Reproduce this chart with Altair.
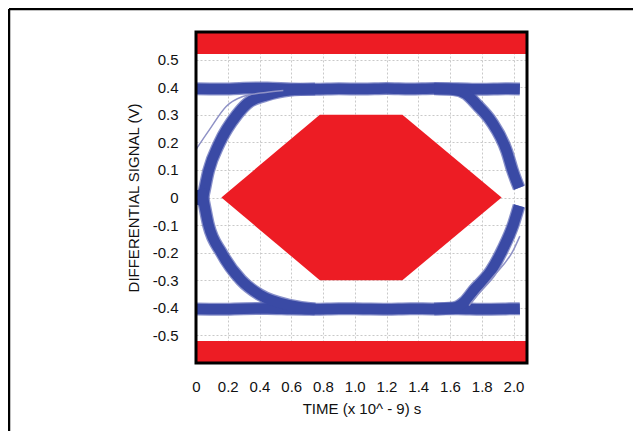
import altair as alt
import pandas as pd

# ---- data ----
x_domain = [0.0, 2.085]
y_domain = [-0.6, 0.6]

# red limit bands (V)
band_lo = [0.52, -0.6]
band_hi = [0.6, -0.52]

# red eye mask hexagon: upper and lower boundary
mask_t = [0.16, 0.78, 1.30, 1.925]
mask_up = [0.0, 0.30, 0.30, 0.0]
mask_dn = [0.0, -0.30, -0.30, 0.0]

# eye traces (time in ns, signal in V)
top_t = [0.0, 0.15, 0.3, 0.45, 0.6, 0.75, 0.9, 1.05, 1.2, 1.35, 1.5, 1.65, 1.8, 1.95, 2.04]
top_v = [0.394, 0.393, 0.396, 0.397, 0.393, 0.392, 0.394, 0.393, 0.395, 0.393, 0.395, 0.394, 0.392, 0.394, 0.393]

bot_t = [0.0, 0.15, 0.3, 0.45, 0.6, 0.75, 0.9, 1.05, 1.2, 1.35, 1.5, 1.65, 1.8, 1.95, 2.04]
bot_v = [-0.404, -0.405, -0.403, -0.402, -0.404, -0.405, -0.403, -0.404, -0.405, -0.403, -0.404, -0.403, -0.405, -0.404, -0.403]

ul_t = [0.03, 0.043, 0.079, 0.148, 0.258, 0.325, 0.44, 0.59, 0.75]
ul_v = [-0.03, 0.0, 0.096, 0.198, 0.300, 0.342, 0.370, 0.389, 0.393]

ll_t = [0.03, 0.043, 0.079, 0.16, 0.285, 0.40, 0.60, 0.75]
ll_v = [0.03, 0.0, -0.10, -0.20, -0.30, -0.352, -0.392, -0.404]

ur_t = [1.50, 1.62, 1.70, 1.77, 1.86, 1.957, 1.995, 2.035]
ur_v = [0.394, 0.391, 0.376, 0.336, 0.276, 0.168, 0.096, 0.035]

lr_t = [1.50, 1.62, 1.69, 1.75, 1.86, 1.93, 2.0, 2.035]
lr_v = [-0.404, -0.400, -0.378, -0.336, -0.264, -0.190, -0.096, -0.030]

thin_ul_t = [0.0, 0.085, 0.19, 0.295, 0.44, 0.55]
thin_ul_v = [0.174, 0.246, 0.330, 0.366, 0.381, 0.388]

thin_lr_t = [1.72, 1.75, 1.87, 2.0, 2.04]
thin_lr_v = [-0.392, -0.370, -0.288, -0.190, -0.14]

x_ticks = [0.0, 0.2, 0.4, 0.6, 0.8, 1.0, 1.2, 1.4, 1.6, 1.8, 2.0]
y_ticks = [-0.5, -0.4, -0.3, -0.2, -0.1, 0.0, 0.1, 0.2, 0.3, 0.4, 0.5]

x_title = "TIME (x 10^ - 9) s"
y_title = "DIFFERENTIAL SIGNAL (V)"

# ---- build tables ----
def series(name, ts, vs):
    return pd.DataFrame({"series": name, "i": range(len(ts)), "t": ts, "v": vs})

thick = pd.concat([
    series("top", top_t, top_v),
    series("bot", bot_t, bot_v),
    series("ul", ul_t, ul_v),
    series("ll", ll_t, ll_v),
    series("ur", ur_t, ur_v),
    series("lr", lr_t, lr_v),
])
thin = pd.concat([
    series("thin_ul", thin_ul_t, thin_ul_v),
    series("thin_lr", thin_lr_t, thin_lr_v),
])
bands = pd.DataFrame({"t": x_domain[0], "t1": x_domain[1], "v": band_lo, "hi": band_hi})
mask = pd.DataFrame({"t": mask_t, "v": mask_up, "dn": mask_dn})
frame = pd.DataFrame({"t": [x_domain[0]], "t1": [x_domain[1]], "v": [y_domain[0]], "v1": [y_domain[1]]})

FONT = "Liberation Sans, Arial, sans-serif"
BLUE = "#3a4aa5"
RED = "#ed1c24"

xs = alt.Scale(domain=x_domain, nice=False, zero=False)
ys = alt.Scale(domain=y_domain, nice=False, zero=False)

x_axis = alt.Axis(
    values=x_ticks, title=x_title, grid=True, domain=False, ticks=False,
    labelExpr="datum.value == 0 ? '0' : format(datum.value, '.1f')",
    labelPadding=16, titlePadding=7, labelOverlap=False, labelFlush=False,
)
y_axis = alt.Axis(
    values=y_ticks, title=y_title, grid=True, domain=False, ticks=False,
    labelExpr="datum.value == 0 ? '0' : (datum.value < 0 ? '-' + format(-datum.value, '.1f') : format(datum.value, '.1f'))",
    labelPadding=18, titlePadding=11, labelOverlap=False, labelFlush=False,
)

X = alt.X("t:Q", scale=xs, axis=x_axis)
Y = alt.Y("v:Q", scale=ys, axis=y_axis)

band_layer = alt.Chart(bands).mark_rect(color=RED).encode(x=X, x2="t1:Q", y=Y, y2="hi:Q")

mask_layer = alt.Chart(mask).mark_area(color=RED, opacity=1, interpolate="linear").encode(
    x=X, y=Y, y2="dn:Q",
)

halo = alt.Chart(thick).mark_line(
    color="#5561b3", strokeWidth=13, opacity=0.7, interpolate="monotone",
    clip=True, strokeCap="butt", strokeJoin="round",
).encode(x=X, y=Y, detail="series:N", order="i:Q")

core = alt.Chart(thick).mark_line(
    color=BLUE, strokeWidth=10.5, interpolate="monotone",
    clip=True, strokeCap="butt", strokeJoin="round",
).encode(x=X, y=Y, detail="series:N", order="i:Q")

thin_layer = alt.Chart(thin).mark_line(
    color="#8f92c6", strokeWidth=1.5, interpolate="monotone", clip=True,
).encode(x=X, y=Y, detail="series:N", order="i:Q")

frame_layer = alt.Chart(frame).mark_rect(
    filled=False, stroke="black", strokeWidth=3,
).encode(x=X, x2="t1:Q", y=Y, y2="v1:Q")

W, H = 331, 331
outer_v = alt.Chart(frame).mark_rule(color="black", strokeWidth=2.5).encode(
    x=alt.value(-187), y=alt.value(-23), y2=alt.value(H + 80),
)
outer_h = alt.Chart(frame).mark_rule(color="black", strokeWidth=2.5).encode(
    x=alt.value(-187), x2=alt.value(W + 120), y=alt.value(-23),
)

chart = alt.layer(
    band_layer, mask_layer, halo, core, thin_layer, frame_layer, outer_v, outer_h
).properties(
    width=W, height=H,
    autosize=alt.AutoSizeParams(type="none"),
    padding={"left": 188, "top": 24, "right": 106, "bottom": 68},
).configure_view(stroke=None).configure_axis(
    labelFont=FONT, labelFontSize=15, labelColor="#111111",
    titleFont=FONT, titleFontSize=15, titleFontWeight="normal", titleColor="#111111",
    gridColor="#c9c9c9", gridDash=[2, 2], gridWidth=1, labelOverlap=False,
)

chart.save("out.html", embed_options={"renderer": "svg", "actions": False})
